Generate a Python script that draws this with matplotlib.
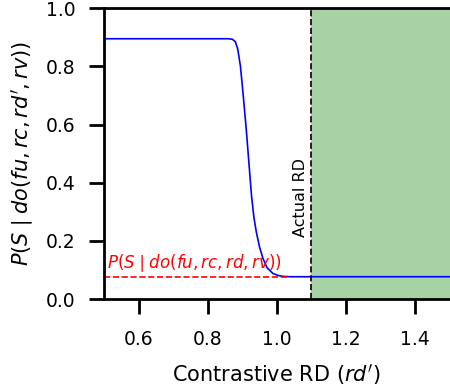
import matplotlib
matplotlib.use("Agg")
import matplotlib.pyplot as plt

rd_vals = [0.50, 0.86, 0.872, 0.880, 0.887, 0.895, 0.903, 0.912, 0.920, 0.927, 0.934,
           0.941, 0.950, 0.960, 0.972, 0.989, 1.005, 1.020, 1.040, 1.50]
p_vals = [0.895, 0.895, 0.893, 0.885, 0.860, 0.800, 0.700, 0.580, 0.460, 0.355, 0.280,
          0.230, 0.180, 0.140, 0.108, 0.088, 0.081, 0.078, 0.077, 0.077]
baseline = 0.077
baseline_end = 1.03
actual_rd = 1.1
xlim = (0.5, 1.5)
ylim = (0.0, 1.0)
xticks = [0.6, 0.8, 1.0, 1.2, 1.4]
yticks = [0.0, 0.2, 0.4, 0.6, 0.8, 1.0]

fig = plt.figure(figsize=(4.5, 3.9), dpi=100)
ax = fig.add_axes([0.231, 0.233, 0.768, 0.746])

ax.axvspan(actual_rd, xlim[1], color="green", alpha=0.35, lw=0)
ax.plot(rd_vals, p_vals, color="blue", lw=1.2)
ax.plot([xlim[0], baseline_end], [baseline, baseline], color="red", ls="--", lw=1.2)
ax.text(0.51, baseline + 0.01, r"$P(S\mid do(fu,rc,rd,rv))$", color="red",
        fontsize=12, ha="left", va="bottom")
ax.axvline(actual_rd, color="black", ls="--", lw=1.2)
ax.text(actual_rd - 0.01, 0.215, "Actual RD", rotation=90, ha="right", va="bottom",
        fontsize=11.5)

ax.set_xlim(*xlim)
ax.set_ylim(*ylim)
ax.set_xticks(xticks)
ax.set_yticks(yticks)
ax.tick_params(labelsize=13.5, width=2, length=10.5, direction="out")
ax.tick_params(axis="x", pad=12)
ax.tick_params(axis="y", pad=10)
for s in ax.spines.values():
    s.set_linewidth(2)
ax.spines["right"].set_visible(False)
ax.set_xlabel(r"Contrastive RD ($rd'$)", fontsize=15, labelpad=9)
ax.set_ylabel(r"$P(S\mid do(fu,rc,rd',rv))$", fontsize=15, labelpad=7)

fig.savefig("out.png", dpi=100)
